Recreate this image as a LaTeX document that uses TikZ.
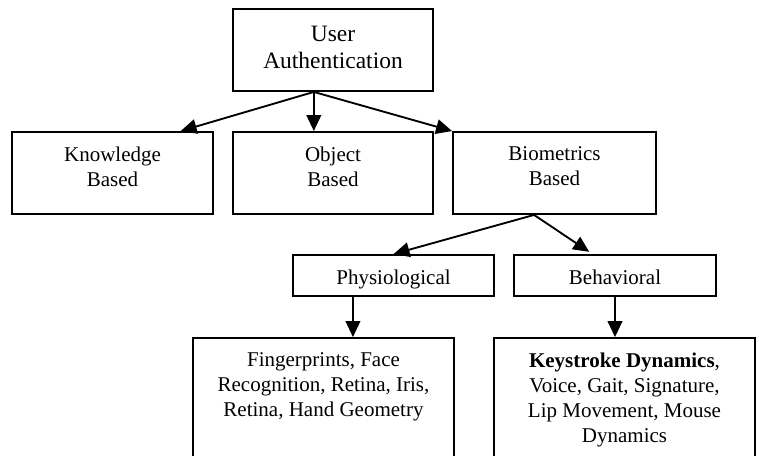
\documentclass[tikz,border=0pt]{standalone}
\usepackage{fontspec}
\setmainfont{Liberation Serif}
\usetikzlibrary{positioning,calc,arrows.meta}

\tikzset{
  box/.style={draw, line width=1.4pt, inner sep=0pt},
  txt/.style={anchor=north, align=center, inner sep=0pt, yshift=-11.4pt,
    font=\fontsize{15.75}{18.75}\selectfont},
  bigtxt/.style={anchor=north, align=center, inner sep=0pt, yshift=-13.5pt,
    font=\fontsize{17.6}{20.25}\selectfont},
  arr/.style={line width=1.4pt, -{Triangle[length=12pt,width=11pt]}},
}

\begin{document}
\begin{tikzpicture}[x=0.75pt, y=-0.75pt]
\useasboundingbox (0,0) rectangle (759,456);
\clip (0,0) rectangle (759,456);

% top level
\node[box, minimum width=150pt, minimum height=61.5pt,
  label={[bigtxt]north:{User\\Authentication}}] (ua) at (333,50) {};

% second level
\node[box, minimum width=150.75pt, minimum height=61.5pt,
  label={[txt]north:{Knowledge\\Based}}] (kb) at (112.5,173) {};
\node[box, minimum width=150pt, minimum height=61.5pt,
  label={[txt]north:{Object\\Based}}] (ob) at (333,173) {};
\node[box, minimum width=152.25pt, minimum height=61.5pt,
  label={[txt]north:{Biometrics\\Based}}] (bb) at (554.5,173) {};

% biometrics split
\node[box, minimum width=150.75pt, minimum height=30.75pt,
  label={[txt]north:Physiological}] (ph) at (393.5,275.5) {};
\node[box, minimum width=151.5pt, minimum height=30.75pt,
  label={[txt]north:Behavioral}] (bh) at (615,275.5) {};

% examples
\node[box, minimum width=195.75pt, minimum height=106.5pt,
  label={[txt]north:{Fingerprints, Face\\Recognition, Retina, Iris,\\Retina, Hand Geometry}}] (fp) at (323.5,409) {};
\node[box, minimum width=195.75pt, minimum height=106.5pt,
  label={[txt]north:{\textbf{Keystroke Dynamics},\\Voice, Gait, Signature,\\Lip Movement, Mouse\\Dynamics}}] (kd) at (624.5,409) {};

% connectors
\coordinate (uaout) at ($(ua.south west)!0.405!(ua.south east)$);
\coordinate (bbout) at ($(bb.south west)!0.4!(bb.south east)$);
\coordinate (phout) at ($(ph.south west)!0.3!(ph.south east)$);
\draw[arr] (uaout) -- ($(kb.north west)!0.836!(kb.north east)$);
\draw[arr] (uaout) -- (uaout |- ob.north);
\draw[arr] (uaout) -- (bb.north west);
\draw[arr] (bbout) -- (ph.north);
\draw[arr, shorten >=3pt] (bbout) -- ($(bh.north west)!0.39!(bh.north east)$);
\draw[arr] (phout) -- (phout |- fp.north);
\draw[arr] (bh.south) -- (bh.south |- kd.north);
\end{tikzpicture}
\end{document}
